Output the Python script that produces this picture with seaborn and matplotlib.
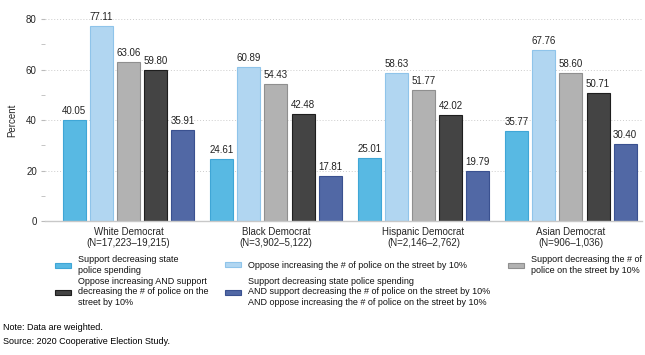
import pandas as pd
import numpy as np
import matplotlib
matplotlib.use("Agg")
import matplotlib.pyplot as plt
import seaborn as sns

# Data
groups = ["White Democrat\n(N=17,223\u201319,215)", "Black Democrat\n(N=3,902\u20135,122)",
          "Hispanic Democrat\n(N=2,146\u20132,762)", "Asian Democrat\n(N=906\u20131,036)"]
measures = ["Support decreasing state\npolice spending",
            "Oppose increasing the # of police on the street by 10%",
            "Support decreasing the # of\npolice on the street by 10%",
            "Oppose increasing AND support\ndecreasing the # of police on the\nstreet by 10%",
            "Support decreasing state police spending\nAND support decreasing the # of police on the street by 10%\nAND oppose increasing the # of police on the street by 10%"]
support_spending = [40.05, 24.61, 25.01, 35.77]
oppose_increase = [77.11, 60.89, 58.63, 67.76]
support_decrease = [63.06, 54.43, 51.77, 58.60]
oppose_and_support = [59.80, 42.48, 42.02, 50.71]
all_three = [35.91, 17.81, 19.79, 30.40]
colors = ["#58b9e3", "#b1d6f1", "#b2b2b2", "#444444", "#5168a5"]
edges = ["#3fa6d6", "#8fc4ea", "#8f8f8f", "#1e1e1e", "#3a5190"]

series = [support_spending, oppose_increase, support_decrease, oppose_and_support, all_three]
rows = []
for m, vals in zip(measures, series):
    for g, v in zip(groups, vals):
        rows.append({"group": g, "measure": m, "value": v})
df = pd.DataFrame(rows)

sns.set_style("white")
plt.rcParams["font.family"] = ["Liberation Sans", "DejaVu Sans"]

fig = plt.figure(figsize=(6.45, 3.55), dpi=100)
ax = fig.add_axes([0.07, 0.377, 0.925, 0.569])

sns.barplot(data=df, x="group", y="value", hue="measure", hue_order=measures,
            palette=colors, width=0.918, gap=0.15, ax=ax, legend=False,
            saturation=1, errorbar=None)

for cont, ec in zip(ax.containers, edges):
    for p in cont:
        p.set_edgecolor(ec)
        p.set_linewidth(0.8)
    ax.bar_label(cont, fmt="%.2f", padding=3, fontsize=7, color="#222222")

ax.set_xlim(-0.565, 3.48)
ax.set_ylim(0, 80)
ax.set_yticks([0, 20, 40, 60, 80])
ax.set_yticks([10, 30, 50, 70], minor=True)
ax.grid(axis="y", linestyle=(0, (1, 2)), color="#cccccc", linewidth=0.7)
ax.set_axisbelow(True)
ax.tick_params(axis="y", which="both", length=3, color="#bbbbbb", labelsize=7, pad=3, left=True)
ax.tick_params(axis="x", length=0, labelsize=7, pad=4)
ax.set_xlabel("")
ax.set_ylabel("Percent", fontsize=7, labelpad=6)
for s in ["top", "right", "left"]:
    ax.spines[s].set_visible(False)
ax.spines["bottom"].set_color("#c8c8c8")
ax.spines["bottom"].set_linewidth(1)
for lab in ax.get_xticklabels():
    lab.set_linespacing(1.1)

# legend, one entry per spot to keep the rows aligned
handles = [c.patches[0] for c in ax.containers]
spots = [(0.0853, 0.2535), (0.349, 0.2535), (0.788, 0.2535),
         (0.0853, 0.1775), (0.349, 0.1775)]
for h, lab, (x, y) in zip(handles, measures, spots):
    leg = fig.legend([h], [lab], loc="center left", bbox_to_anchor=(x, y), frameon=False,
                     fontsize=6.5, handlelength=1.77, handleheight=0.55, handletextpad=0.78,
                     borderaxespad=0, borderpad=0, labelspacing=0)
    for t in leg.get_texts():
        t.set_linespacing(1.15)
        t.set_color("#111111")

fig.text(0.004, 0.07, "Note: Data are weighted.", fontsize=6.5, color="black")
fig.text(0.004, 0.032, "Source: 2020 Cooperative Election Study.", fontsize=6.5, color="black")

plt.savefig("out.png", dpi=100)
